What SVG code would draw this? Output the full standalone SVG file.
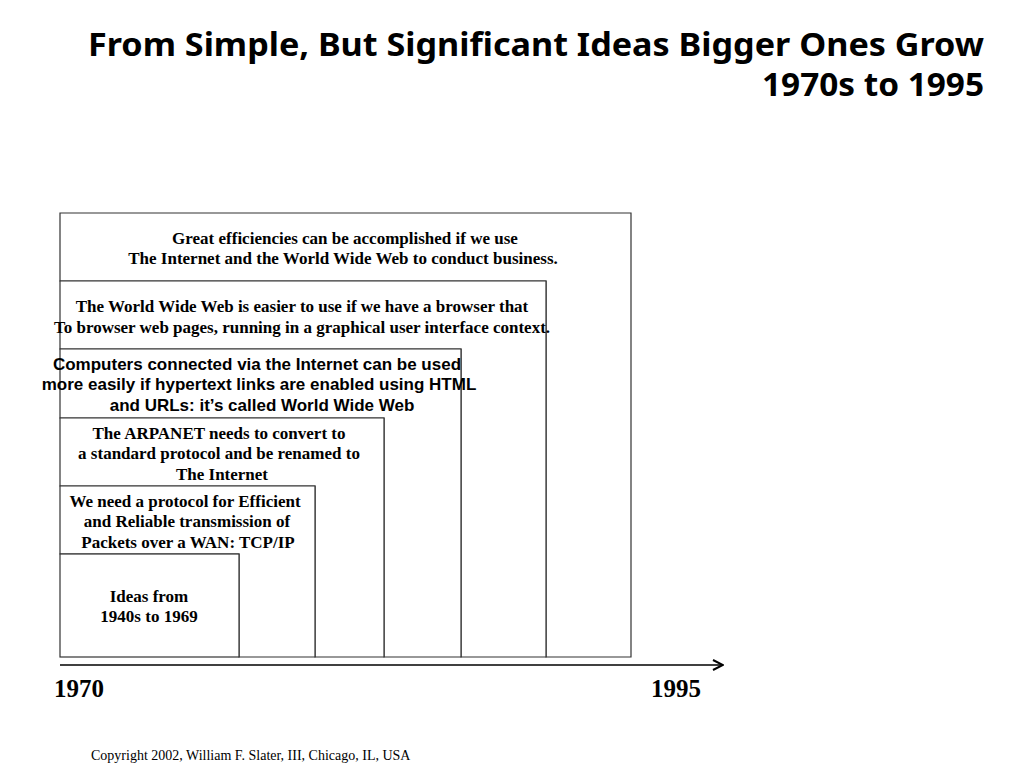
<svg xmlns="http://www.w3.org/2000/svg" width="1024" height="768" viewBox="0 0 1024 768">
<defs>
<style>
.box{fill:#fff;stroke:#333;stroke-width:1.2}
.s{font-family:"Liberation Serif","Times New Roman",serif;font-weight:bold;font-size:17px;fill:#000;text-anchor:middle}
.a{font-family:"Liberation Sans",Arial,sans-serif;font-weight:bold;font-size:17px;fill:#000;text-anchor:middle}
.title{font-family:"Noto Sans","Open Sans",sans-serif;font-weight:bold;font-size:33px;fill:#000;text-anchor:end}
.yr{font-family:"Liberation Serif","Times New Roman",serif;font-weight:bold;font-size:25px;fill:#000}
.copy{font-family:"Liberation Serif","Times New Roman",serif;font-size:14px;fill:#000}
</style>
<marker id="arr" viewBox="0 0 12 12" markerWidth="12" markerHeight="12" refX="11" refY="6" orient="auto" markerUnits="userSpaceOnUse">
<path d="M1,1 L11,6 L1,11" fill="none" stroke="#000" stroke-width="2"/>
</marker>
</defs>
<rect width="1024" height="768" fill="#fff"/>
<g id="title">
<text class="title" x="984" y="56" textLength="896" lengthAdjust="spacingAndGlyphs">From Simple, But Significant Ideas Bigger Ones Grow</text>
<text class="title" x="984" y="96" textLength="222" lengthAdjust="spacingAndGlyphs">1970s to 1995</text>
</g>
<g id="node1">
<path class="box" d="M60,213 H631 V657 H546 V281 H60 Z"/>
<text class="s" x="345" y="244">Great efficiencies can be accomplished if we use</text>
<text class="s" x="343" y="264">The Internet and the World Wide Web to conduct business.</text>
</g>
<g id="node2">
<path class="box" d="M60,281 H546 V657 H461 V349 H60 Z"/>
<text class="s" x="302" y="312">The World Wide Web is easier to use if we have a browser that</text>
<text class="s" x="302" y="333">To browser web pages, running in a graphical user interface context.</text>
</g>
<g id="node3">
<path class="box" d="M60,349 H461 V657 H384 V418 H60 Z"/>
<text class="a" x="257" y="370">Computers connected via the Internet can be used</text>
<text class="a" x="259" y="390">more easily if hypertext links are enabled using HTML</text>
<text class="a" x="262" y="411">and URLs: it’s called World Wide Web</text>
</g>
<g id="node4">
<path class="box" d="M60,418 H384 V657 H315 V486 H60 Z"/>
<text class="s" x="219" y="439">The ARPANET needs to convert to</text>
<text class="s" x="219" y="459">a standard protocol and be renamed to</text>
<text class="s" x="222" y="480">The Internet</text>
</g>
<g id="node5">
<path class="box" d="M60,486 H315 V657 H239 V554 H60 Z"/>
<text class="s" x="185" y="507">We need a protocol for Efficient</text>
<text class="s" x="187" y="527">and Reliable transmission of</text>
<text class="s" x="188" y="548">Packets over a WAN: TCP/IP</text>
</g>
<g id="node6">
<rect class="box" x="60" y="554" width="179" height="103"/>
<text class="s" x="149" y="602">Ideas from</text>
<text class="s" x="149" y="622">1940s to 1969</text>
</g>
<g id="connectors">
<line x1="60" y1="665" x2="723" y2="665" stroke="#000" stroke-width="1.6" marker-end="url(#arr)"/>
</g>
<g id="axis-labels">
<text class="yr" x="54" y="697">1970</text>
<text class="yr" x="651" y="697">1995</text>
</g>
<text class="copy" x="91" y="760">Copyright 2002, William F. Slater, III, Chicago, IL, USA</text>
</svg>
